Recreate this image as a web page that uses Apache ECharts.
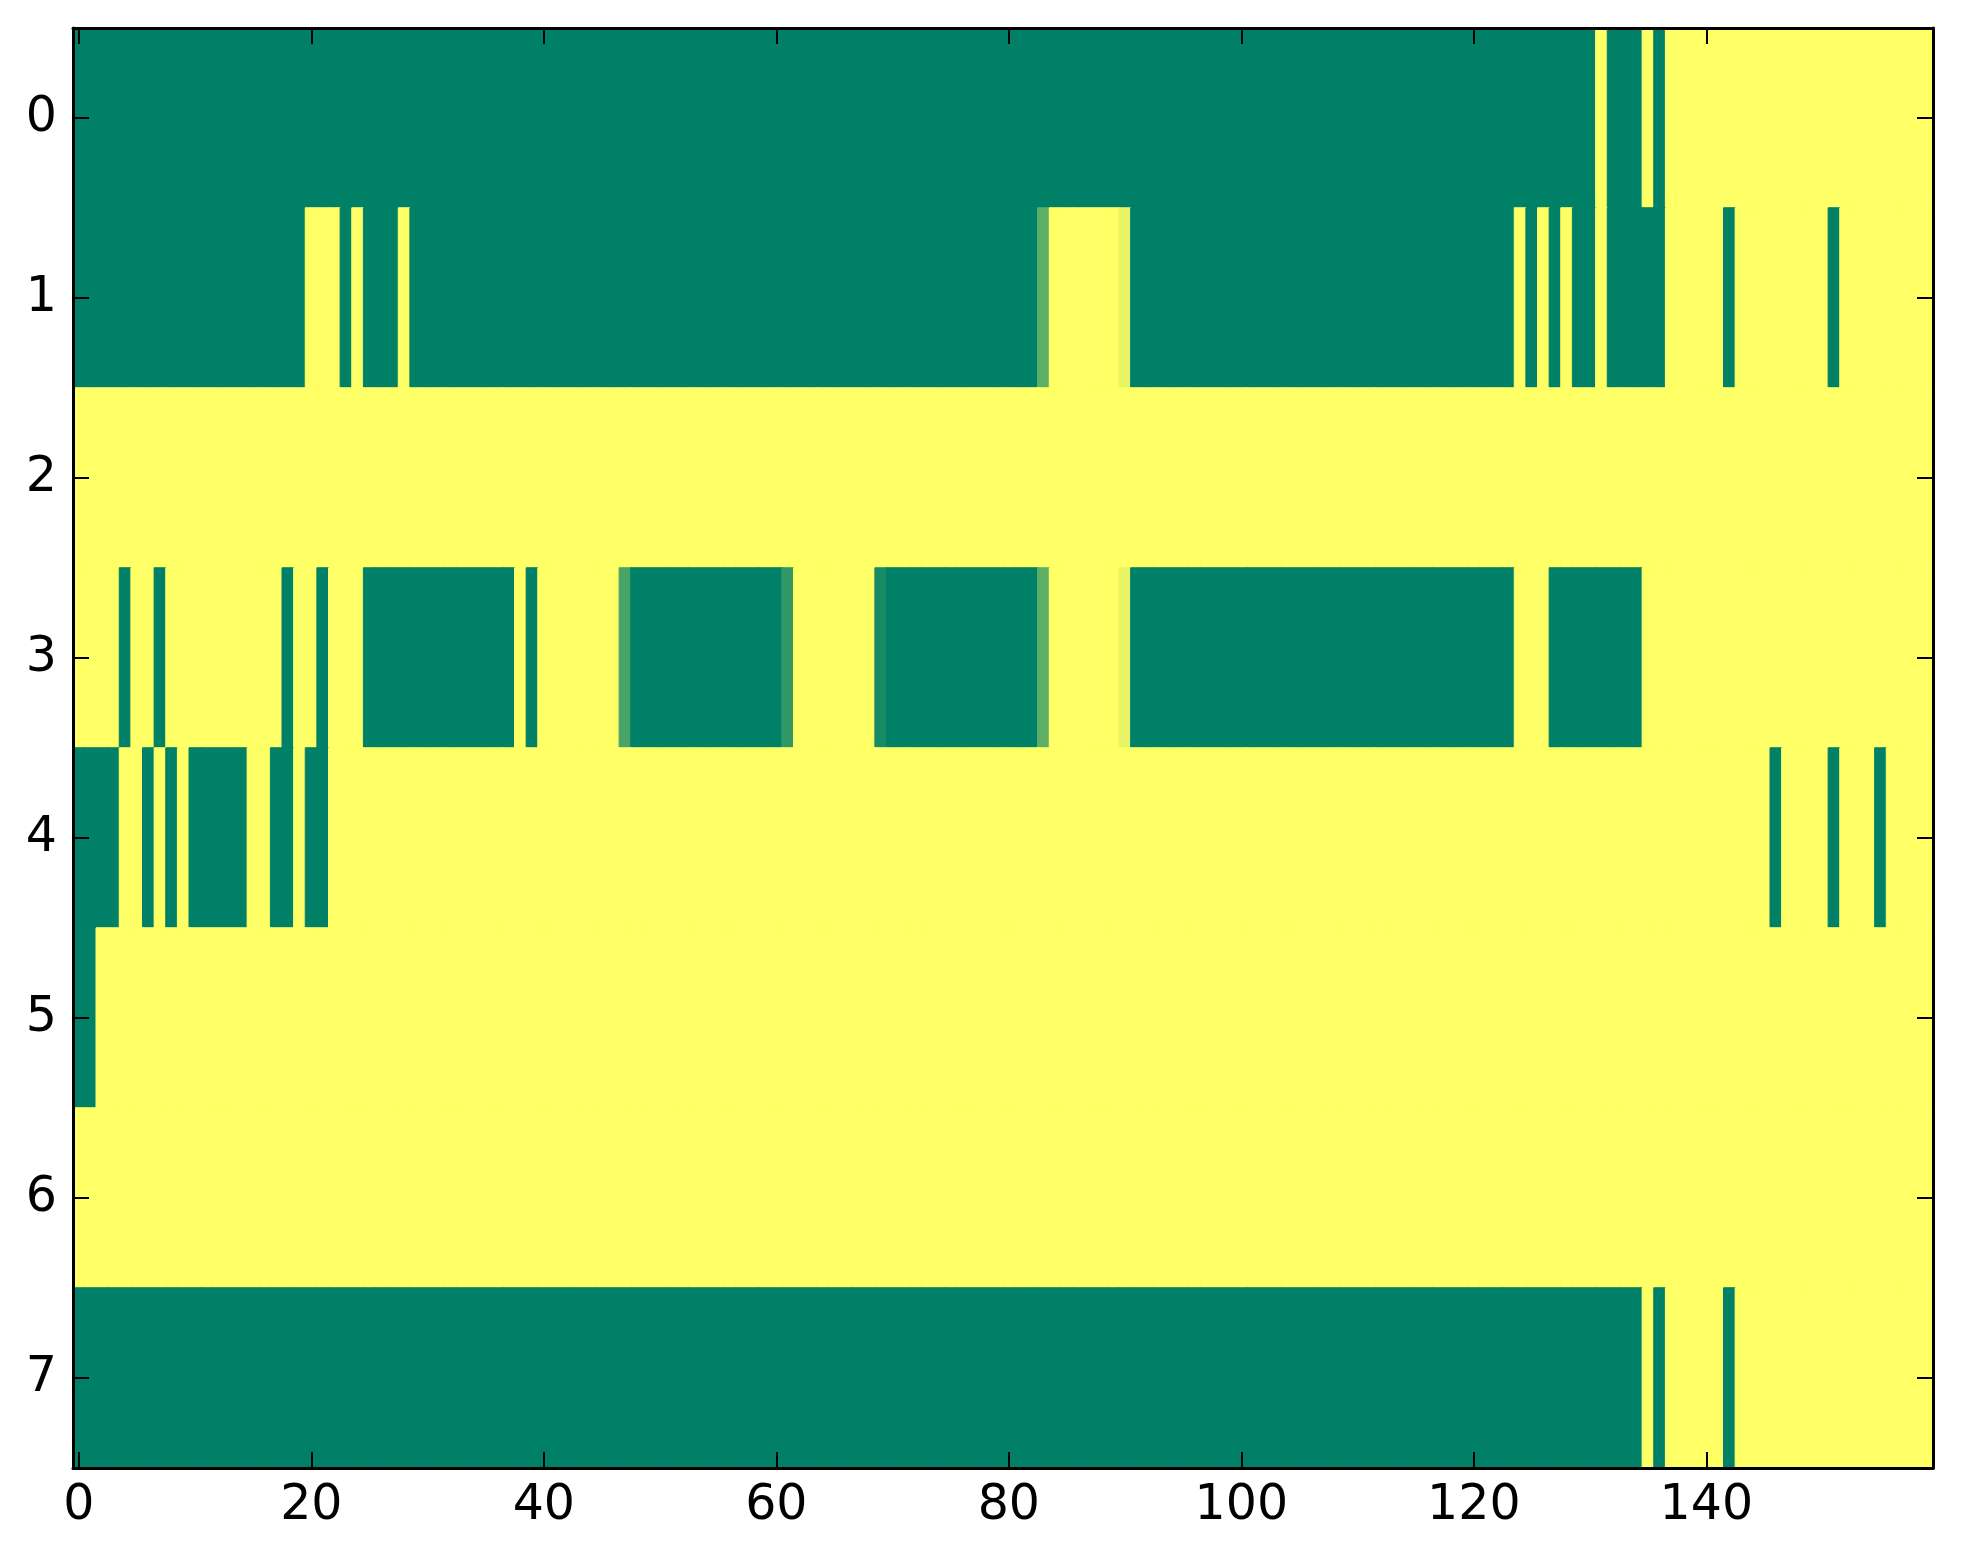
<!DOCTYPE html>
<html>
<head>
<meta charset="utf-8">
<script src="https://cdn.jsdelivr.net/npm/echarts@6/dist/echarts.min.js"></script>
<style>
html,body{margin:0;padding:0;background:#fff;}
#chart{width:1963px;height:1564px;}
</style>
</head>
<body>
<div id="chart"></div>
<script>
// Column count and row labels
var numCols = 160;
var rowLabels = ['0','1','2','3','4','5','6','7'];
var xTickStep = 20;

// Each row as runs: [firstCol, lastCol, value] (value 0 = green, 1 = yellow)
var row0 = [[0,130,0],[131,131,1],[132,134,0],[135,135,1],[136,136,0],[137,159,1]];
var row1 = [[0,19,0],[20,22,1],[23,23,0],[24,24,1],[25,27,0],[28,28,1],[29,82,0],[83,83,0.37],
            [84,89,1],[90,90,0.91],[91,123,0],[124,124,1],[125,125,0],[126,126,1],[127,127,0],
            [128,128,1],[129,130,0],[131,131,1],[132,136,0],[137,141,1],[142,142,0],[143,150,1],
            [151,151,0],[152,159,1]];
var row2 = [[0,159,1]];
var row3 = [[0,3,1],[4,4,0],[5,6,1],[7,7,0],[8,17,1],[18,18,0],[19,20,1],[21,21,0],[22,24,1],
            [25,37,0],[38,38,1],[39,39,0],[40,46,1],[47,47,0.28],[48,60,0],[61,61,0.19],[62,68,1],
            [69,69,0.09],[70,82,0],[83,83,0.37],[84,89,1],[90,90,0.91],[91,123,0],[124,126,1],
            [127,134,0],[135,159,1]];
var row4 = [[0,3,0],[4,5,1],[6,6,0],[7,7,1],[8,8,0],[9,9,1],[10,14,0],[15,16,1],[17,18,0],
            [19,19,1],[20,21,0],[22,145,1],[146,146,0],[147,150,1],[151,151,0],[152,154,1],
            [155,155,0],[156,159,1]];
var row5 = [[0,1,0],[2,159,1]];
var row6 = [[0,159,1]];
var row7 = [[0,134,0],[135,135,1],[136,136,0],[137,141,1],[142,142,0],[143,159,1]];

var rows = [row0,row1,row2,row3,row4,row5,row6,row7];

// 'summer' colour ramp: value 0 -> #008066, value 1 -> #ffff66
function summer(v) {
  var r = Math.round(255 * v);
  var g = Math.round(255 * (0.5 + 0.5 * v));
  var b = 102;
  return 'rgb(' + r + ',' + g + ',' + b + ')';
}

var xCats = [];
for (var i = 0; i < numCols; i++) xCats.push(String(i));

var cells = [];
rows.forEach(function (runs, r) {
  runs.forEach(function (run) {
    for (var c = run[0]; c <= run[1]; c++) {
      var col = summer(run[2]);
      cells.push({value: [c, r, run[2]],
                  itemStyle: {color: col, borderColor: col, borderWidth: 1}});
    }
  });
});

var font = 'DejaVu Sans';
var lineW = 3;
function xInt(idx) { return idx % xTickStep === 0; }

var chart = echarts.init(document.getElementById('chart'), null, {renderer: 'canvas'});
chart.setOption({
  animation: false,
  backgroundColor: '#ffffff',
  grid: {left: 73, right: 30, top: 28, bottom: 96, containLabel: false},
  xAxis: [{
    type: 'category', data: xCats, position: 'bottom', z: 10,
    axisLine: {show: true, onZero: false, lineStyle: {color: '#000', width: lineW}},
    axisTick: {show: true, inside: true, length: 16, interval: xInt, alignWithLabel: true,
               lineStyle: {color: '#000', width: 2}},
    axisLabel: {show: true, interval: xInt, margin: 14, color: '#000',
                fontFamily: font, fontSize: 49},
    splitLine: {show: false}
  }, {
    type: 'category', data: xCats, position: 'top', z: 10,
    axisLine: {show: true, onZero: false, lineStyle: {color: '#000', width: lineW}},
    axisTick: {show: true, inside: true, length: 16, interval: xInt, alignWithLabel: true,
               lineStyle: {color: '#000', width: 2}},
    axisLabel: {show: false},
    splitLine: {show: false}
  }],
  yAxis: [{
    type: 'category', data: rowLabels, inverse: true, position: 'left', z: 10,
    axisLine: {show: true, onZero: false, lineStyle: {color: '#000', width: lineW}},
    axisTick: {show: true, inside: true, length: 16, interval: 0, alignWithLabel: true,
               lineStyle: {color: '#000', width: 2}},
    axisLabel: {show: true, interval: 0, margin: 16, color: '#000',
                fontFamily: font, fontSize: 49},
    splitLine: {show: false}
  }, {
    type: 'category', data: rowLabels, inverse: true, position: 'right', z: 10,
    axisLine: {show: true, onZero: false, lineStyle: {color: '#000', width: lineW}},
    axisTick: {show: true, inside: true, length: 16, interval: 0, alignWithLabel: true,
               lineStyle: {color: '#000', width: 2}},
    axisLabel: {show: false},
    splitLine: {show: false}
  }],
  series: [{
    type: 'heatmap',
    xAxisIndex: 0, yAxisIndex: 0,
    data: cells,
    emphasis: {disabled: true},
    progressive: 0
  }]
});
</script>
</body>
</html>
